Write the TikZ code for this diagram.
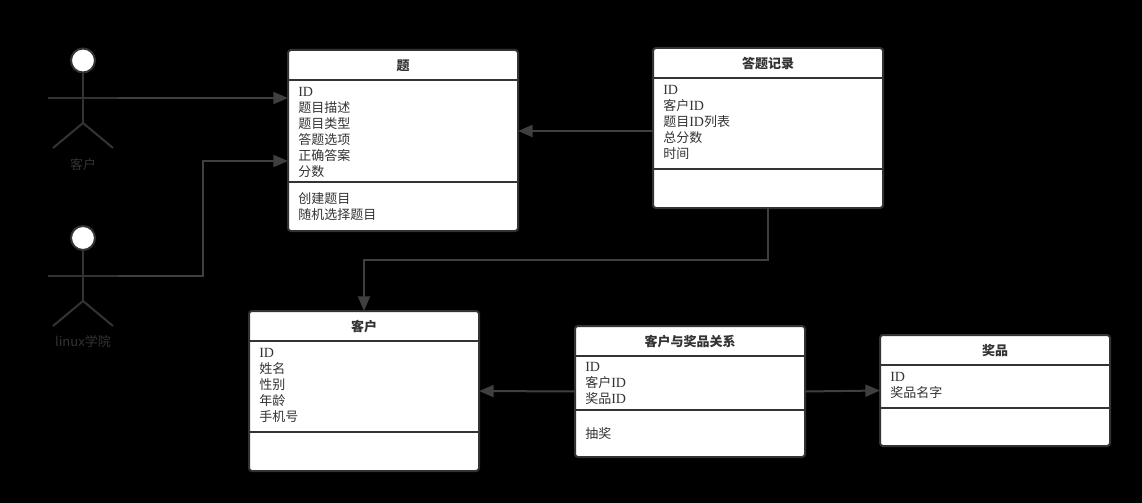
\documentclass[tikz,border=0pt]{standalone}
\usepackage{fontspec}
\usepackage{tikz}
\setmainfont{Noto Sans CJK SC}
\newfontfamily\latinfont{Liberation Serif}
\usetikzlibrary{arrows.meta, positioning}
\definecolor{ink}{HTML}{333333}
\definecolor{tipgray}{HTML}{3F3F3F}
\newcommand{\ID}{{\fontsize{10.5}{12}\latinfont ID}}
\begin{document}
\begin{tikzpicture}[
    x=0.75pt, y=-0.75pt,
    every node/.style={font=\fontsize{9.75}{12}\selectfont},
    classbox/.style={rectangle, rounded corners=2.2pt, draw=ink, fill=white, line width=1.5pt, minimum width=172.5pt, inner sep=0pt, outer sep=0pt},
    classtitle/.style={font=\fontsize{9.75}{12}\selectfont\bfseries, color=ink, inner sep=0pt},
    classtext/.style={color=ink, align=left, anchor=north west, inner sep=0pt},
    divline/.style={draw=ink, line width=1.5pt},
    actorhead/.style={circle, draw=ink, fill=white, line width=1.5pt, minimum size=18pt, inner sep=0pt},
    actorline/.style={draw=ink, line width=1.5pt},
    actorname/.style={color=ink, inner sep=0pt},
    arrow/.style={-{Triangle[length=11pt, width=9pt]}, draw=tipgray, line width=1.5pt, color=tipgray}
]
\useasboundingbox (0,0) rectangle (1142,503);
\fill[black] (0,0) rectangle (1142,503);

% --- Actors ---
\node[actorhead] (head1) at (83,60.5) {};
\coordinate (hip1) at (83,123);
\coordinate (armL1) at (48,98);
\coordinate (armR1) at (118,98);
\draw[actorline] (head1) -- (hip1);
\draw[actorline] (armL1) -- (armR1);
\draw[actorline] (53,148) -- (hip1) -- (113,148);
\node[actorname] (name1) at (83,165) {客户};

\node[actorhead] (head2) at (83,238) {};
\coordinate (hip2) at (83,301);
\coordinate (armL2) at (48,275.5);
\coordinate (armR2) at (118,275.5);
\draw[actorline] (head2) -- (hip2);
\draw[actorline] (armL2) -- (armR2);
\draw[actorline] (53,326) -- (hip2) -- (113,326);
\node[actorname] (name2) at (83,341.5) {linux学院};

% --- Question class ---
\node[classbox, minimum height=135.75pt] (quest) at (403,140.5) {};
\node[classtitle] (questT) at (403,66) {题};
\draw[divline] (288,80) -- (518,80);
\draw[divline] (288,182) -- (518,182);
\node[classtext] (questA) at (298,86.8) {\ID\\题目描述\\题目类型\\答题选项\\正确答案\\分数};
\node[classtext] (questM) at (298,192.5) {创建题目\\随机选择题目};

% --- Answer record class ---
\node[classbox, minimum height=120pt] (record) at (768,128) {};
\node[classtitle] (recordT) at (768,64) {答题记录};
\draw[divline] (653,78) -- (883,78);
\draw[divline] (653,169) -- (883,169);
\node[classtext] (recordA) at (663,84.8) {\ID\\客户\ID\\题目\ID 列表\\总分数\\时间};

% --- Customer class ---
\node[classbox, minimum height=120pt] (cust) at (364,391) {};
\node[classtitle] (custT) at (364,327) {客户};
\draw[divline] (249,341) -- (479,341);
\draw[divline] (249,432) -- (479,432);
\node[classtext] (custA) at (259,347.8) {\ID\\姓名\\性别\\年龄\\手机号};

% --- Relation class ---
\node[classbox, minimum height=98.25pt] (rel) at (690,391.5) {};
\node[classtitle] (relT) at (690,342) {客户与奖品关系};
\draw[divline] (575,356) -- (805,356);
\draw[divline] (575,410) -- (805,410);
\node[classtext] (relA) at (585,361.8) {\ID\\客户\ID\\奖品\ID};
\node[classtext] (relM) at (585,427.5) {抽奖};

% --- Prize class ---
\node[classbox, minimum height=83.25pt] (prize) at (995,390.5) {};
\node[classtitle] (prizeT) at (995,351) {奖品};
\draw[divline] (880,365) -- (1110,365);
\draw[divline] (880,408) -- (1110,408);
\node[classtext] (prizeA) at (890,371.8) {\ID\\奖品名字};

% --- Connectors ---
\coordinate (questIn1) at (288,98);
\coordinate (questIn2) at (288,161);
\coordinate (questIn3) at (518,131);
\coordinate (recordOut) at (653,131);
\draw[arrow] (armR1) -- (questIn1);
\draw[arrow] (armR2) -- (203,275.5) -- (203,161) -- (questIn2);
\draw[arrow] (recordOut) -- (questIn3);
\draw[arrow] (record.south) -- (768,260) -- (364,260) -- (cust.north);
\draw[arrow] (rel.west) -- (cust.east);
\draw[arrow] (rel.east) -- (prize.west);
\end{tikzpicture}
\end{document}
